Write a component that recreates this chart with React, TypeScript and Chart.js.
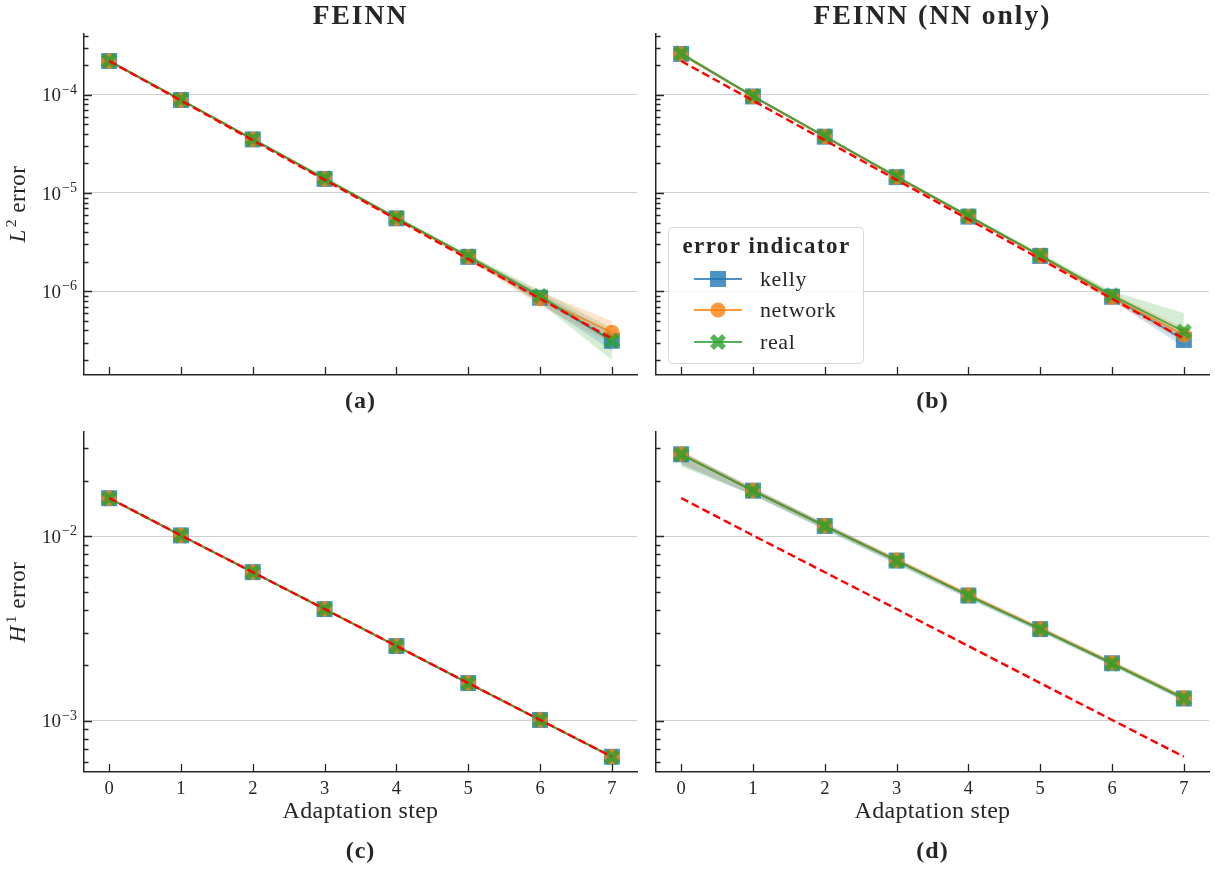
import React, { useEffect, useRef } from 'react';
import { Chart, registerables } from 'chart.js';

Chart.register(...registerables);

// ---------------- data ----------------
const steps = [0, 1, 2, 3, 4, 5, 6, 7];
const stepLabels = ['0', '1', '2', '3', '4', '5', '6', '7'];
const legendLabels = ['kelly', 'network', 'real'];
const legendTitle = 'error indicator';
const panelTitles = ['FEINN', 'FEINN (NN only)'];
const panelTags = ['(a)', '(b)', '(c)', '(d)'];
const xAxisTitle = 'Adaptation step';

const row1Decades = [1e-7, 1e-6, 1e-5, 1e-4, 1e-3];
const row2Decades = [1e-4, 1e-3, 1e-2, 1e-1];
const minorMultipliers = [2, 3, 4, 5, 6, 7, 8, 9];

// reference (dashed) lines
const refL2 = [2.2e-4, 8.7e-5, 3.44e-5, 1.36e-5, 5.4e-6, 2.13e-6, 8.4e-7, 3.3e-7];
const refH1 = [0.0161, 0.0101, 6.38e-3, 4.03e-3, 2.54e-3, 1.6e-3, 1.01e-3, 6.38e-4];

// (a) FEINN, L2 error
const aKelly = [2.2e-4, 8.83e-5, 3.51e-5, 1.39e-5, 5.52e-6, 2.24e-6, 8.6e-7, 3.14e-7];
const aNetwork = [2.2e-4, 8.83e-5, 3.51e-5, 1.39e-5, 5.52e-6, 2.24e-6, 8.4e-7, 3.83e-7];
const aReal = [2.21e-4, 8.9e-5, 3.54e-5, 1.41e-5, 5.6e-6, 2.27e-6, 9.0e-7, 3.14e-7];
const aKellyLo = [2.13e-4, 8.6e-5, 3.42e-5, 1.35e-5, 5.35e-6, 2.15e-6, 7.6e-7, 2.5e-7];
const aKellyHi = [2.27e-4, 9.05e-5, 3.6e-5, 1.43e-5, 5.7e-6, 2.33e-6, 9.5e-7, 3.8e-7];
const aNetworkLo = [2.13e-4, 8.6e-5, 3.42e-5, 1.35e-5, 5.35e-6, 2.1e-6, 7.2e-7, 2.9e-7];
const aNetworkHi = [2.27e-4, 9.05e-5, 3.6e-5, 1.43e-5, 5.7e-6, 2.36e-6, 9.9e-7, 5.0e-7];
const aRealLo = [2.14e-4, 8.65e-5, 3.45e-5, 1.36e-5, 5.4e-6, 2.17e-6, 7.6e-7, 2.0e-7];
const aRealHi = [2.28e-4, 9.15e-5, 3.64e-5, 1.46e-5, 5.8e-6, 2.38e-6, 1.02e-6, 4.2e-7];

// (b) FEINN (NN only), L2 error
const bKelly = [2.6e-4, 9.6e-5, 3.74e-5, 1.45e-5, 5.75e-6, 2.29e-6, 8.8e-7, 3.2e-7];
const bNetwork = [2.6e-4, 9.6e-5, 3.74e-5, 1.45e-5, 5.75e-6, 2.29e-6, 8.7e-7, 3.6e-7];
const bReal = [2.62e-4, 9.7e-5, 3.78e-5, 1.47e-5, 5.85e-6, 2.33e-6, 9.1e-7, 3.9e-7];
const bKellyLo = [2.5e-4, 9.35e-5, 3.65e-5, 1.41e-5, 5.6e-6, 2.22e-6, 8.1e-7, 2.7e-7];
const bKellyHi = [2.72e-4, 9.85e-5, 3.84e-5, 1.49e-5, 5.9e-6, 2.37e-6, 9.5e-7, 3.7e-7];
const bNetworkLo = [2.5e-4, 9.35e-5, 3.65e-5, 1.41e-5, 5.6e-6, 2.21e-6, 7.8e-7, 3.05e-7];
const bNetworkHi = [2.72e-4, 9.85e-5, 3.84e-5, 1.49e-5, 5.9e-6, 2.38e-6, 9.7e-7, 4.2e-7];
const bRealLo = [2.5e-4, 9.45e-5, 3.69e-5, 1.43e-5, 5.7e-6, 2.25e-6, 8.3e-7, 3.3e-7];
const bRealHi = [2.75e-4, 1.0e-4, 3.9e-5, 1.52e-5, 6.05e-6, 2.45e-6, 1.0e-6, 6.0e-7];

// (c) FEINN, H1 error
const cKelly = [0.01607, 0.0101, 6.39e-3, 4.03e-3, 2.54e-3, 1.6e-3, 1.01e-3, 6.38e-4];
const cNetwork = [0.01608, 0.01011, 6.4e-3, 4.04e-3, 2.545e-3, 1.602e-3, 1.012e-3, 6.39e-4];
const cReal = [0.01605, 0.01009, 6.38e-3, 4.02e-3, 2.535e-3, 1.598e-3, 1.009e-3, 6.37e-4];
const cKellyLo = [0.0159, 0.01, 6.33e-3, 3.99e-3, 2.515e-3, 1.585e-3, 1.0e-3, 6.32e-4];
const cKellyHi = [0.01623, 0.0102, 6.45e-3, 4.07e-3, 2.565e-3, 1.615e-3, 1.02e-3, 6.44e-4];
const cNetworkLo = [0.01592, 0.01001, 6.34e-3, 4.0e-3, 2.52e-3, 1.587e-3, 1.002e-3, 6.33e-4];
const cNetworkHi = [0.01625, 0.01021, 6.46e-3, 4.08e-3, 2.57e-3, 1.617e-3, 1.022e-3, 6.45e-4];
const cRealLo = [0.01588, 0.00999, 6.32e-3, 3.98e-3, 2.51e-3, 1.583e-3, 0.999e-3, 6.31e-4];
const cRealHi = [0.01622, 0.01019, 6.44e-3, 4.06e-3, 2.56e-3, 1.613e-3, 1.019e-3, 6.43e-4];

// (d) FEINN (NN only), H1 error
const dKelly = [0.0278, 0.01766, 0.01137, 7.38e-3, 4.77e-3, 3.14e-3, 2.05e-3, 1.32e-3];
const dNetwork = [0.0279, 0.0177, 0.0114, 7.42e-3, 4.81e-3, 3.16e-3, 2.06e-3, 1.33e-3];
const dReal = [0.0277, 0.0176, 0.01135, 7.36e-3, 4.76e-3, 3.13e-3, 2.04e-3, 1.32e-3];
const dKellyLo = [0.0245, 0.0166, 0.0108, 7.05e-3, 4.58e-3, 3.03e-3, 1.98e-3, 1.28e-3];
const dKellyHi = [0.0288, 0.0183, 0.0118, 7.62e-3, 4.9e-3, 3.23e-3, 2.11e-3, 1.36e-3];
const dNetworkLo = [0.0247, 0.0168, 0.011, 7.15e-3, 4.65e-3, 3.06e-3, 2.0e-3, 1.29e-3];
const dNetworkHi = [0.029, 0.0184, 0.0118, 7.65e-3, 4.95e-3, 3.25e-3, 2.12e-3, 1.37e-3];
const dRealLo = [0.0238, 0.0167, 0.0109, 7.1e-3, 4.6e-3, 3.04e-3, 1.99e-3, 1.28e-3];
const dRealHi = [0.0289, 0.0182, 0.0117, 7.58e-3, 4.88e-3, 3.21e-3, 2.1e-3, 1.36e-3];

// ---------------- style ----------------
const SERIF = '"Liberation Serif", "Times New Roman", serif';
const INK = '#262626';
const GRID = '#cfcfcf';
const BLUE = 'rgba(31,119,180,0.8)';
const ORANGE = 'rgba(255,127,14,0.8)';
const GREEN = 'rgba(44,160,44,0.8)';
const BLUE_BAND = 'rgba(31,119,180,0.2)';
const ORANGE_BAND = 'rgba(255,127,14,0.2)';
const GREEN_BAND = 'rgba(44,160,44,0.2)';

let xMarkerCache: HTMLCanvasElement | null = null;
function xMarker(): HTMLCanvasElement {
  if (xMarkerCache) return xMarkerCache;
  const S = 18;
  const a = document.createElement('canvas');
  a.width = S; a.height = S;
  const g = a.getContext('2d')!;
  g.strokeStyle = 'rgb(44,160,44)';
  g.lineWidth = 5.6;
  g.lineCap = 'butt';
  g.beginPath();
  g.moveTo(3, 3); g.lineTo(S - 3, S - 3);
  g.moveTo(S - 3, 3); g.lineTo(3, S - 3);
  g.stroke();
  const b = document.createElement('canvas');
  b.width = S; b.height = S;
  const h = b.getContext('2d')!;
  h.globalAlpha = 0.8;
  h.drawImage(a, 0, 0);
  xMarkerCache = b;
  return b;
}

type Band = { mean: number[]; lo: number[]; hi: number[] };
type PanelSpec = {
  left: number; top: number; width: number; height: number;
  area: { l: number; t: number; r: number; b: number };
  yMin: number; yMax: number; decades: number[];
  kelly: Band; network: Band; real: Band; ref: number[];
  yLabels: boolean; xLabels: boolean; legend: boolean;
};

const panels: PanelSpec[] = [
  {
    left: 0, top: 0, width: 640, height: 420, area: { l: 84, t: 34, r: 637, b: 375 },
    yMin: 1.408e-7, yMax: 4.145e-4, decades: row1Decades,
    kelly: { mean: aKelly, lo: aKellyLo, hi: aKellyHi },
    network: { mean: aNetwork, lo: aNetworkLo, hi: aNetworkHi },
    real: { mean: aReal, lo: aRealLo, hi: aRealHi },
    ref: refL2, yLabels: true, xLabels: false, legend: false,
  },
  {
    left: 620, top: 0, width: 595, height: 420, area: { l: 656, t: 34, r: 1209, b: 375 },
    yMin: 1.408e-7, yMax: 4.145e-4, decades: row1Decades,
    kelly: { mean: bKelly, lo: bKellyLo, hi: bKellyHi },
    network: { mean: bNetwork, lo: bNetworkLo, hi: bNetworkHi },
    real: { mean: bReal, lo: bRealLo, hi: bRealHi },
    ref: refL2, yLabels: false, xLabels: false, legend: true,
  },
  {
    left: 0, top: 420, width: 640, height: 452, area: { l: 84, t: 432, r: 637, b: 772 },
    yMin: 5.275e-4, yMax: 0.03671, decades: row2Decades,
    kelly: { mean: cKelly, lo: cKellyLo, hi: cKellyHi },
    network: { mean: cNetwork, lo: cNetworkLo, hi: cNetworkHi },
    real: { mean: cReal, lo: cRealLo, hi: cRealHi },
    ref: refH1, yLabels: true, xLabels: true, legend: false,
  },
  {
    left: 620, top: 420, width: 595, height: 452, area: { l: 656, t: 432, r: 1209, b: 772 },
    yMin: 5.275e-4, yMax: 0.03671, decades: row2Decades,
    kelly: { mean: dKelly, lo: dKellyLo, hi: dKellyHi },
    network: { mean: dNetwork, lo: dNetworkLo, hi: dNetworkHi },
    real: { mean: dReal, lo: dRealLo, hi: dRealHi },
    ref: refH1, yLabels: false, xLabels: true, legend: false,
  },
];

function yTickList(p: PanelSpec) {
  const out: { value: number; major: boolean }[] = [];
  p.decades.forEach((d) => {
    if (d >= p.yMin && d <= p.yMax) out.push({ value: d, major: true });
    minorMultipliers.forEach((m) => {
      const v = d * m;
      if (v >= p.yMin && v <= p.yMax) out.push({ value: v, major: false });
    });
  });
  return out.sort((a, b) => a.value - b.value);
}

function setSpacing(ctx: CanvasRenderingContext2D, v: string) {
  try { (ctx as any).letterSpacing = v; } catch (e) { /* ignore */ }
}

function drawLegend(ctx: CanvasRenderingContext2D, ox: number, oy: number) {
  const bx = 668 - ox, by = 227 - oy, bw = 195, bh = 136;
  ctx.save();
  ctx.beginPath();
  (ctx as any).roundRect(bx + 0.5, by + 0.5, bw, bh, 4);
  ctx.fillStyle = 'rgba(255,255,255,0.8)';
  ctx.fill();
  ctx.strokeStyle = '#d8d8d8';
  ctx.lineWidth = 1;
  ctx.stroke();
  ctx.fillStyle = INK;
  ctx.font = `bold 23px ${SERIF}`;
  ctx.textAlign = 'center';
  ctx.textBaseline = 'alphabetic';
  setSpacing(ctx, '1.4px');
  ctx.fillText(legendTitle, bx + bw / 2 + 1, 253 - oy);
  setSpacing(ctx, '0.6px');
  const colors = [BLUE, ORANGE, GREEN];
  const ys = [279, 310, 342];
  ctx.font = `22px ${SERIF}`;
  ctx.textAlign = 'left';
  ys.forEach((yy, i) => {
    const y = yy - oy;
    const x1 = 694 - ox, x2 = 742 - ox, xm = 718 - ox;
    ctx.strokeStyle = colors[i];
    ctx.lineWidth = 1.8;
    ctx.beginPath(); ctx.moveTo(x1, y); ctx.lineTo(x2, y); ctx.stroke();
    ctx.fillStyle = colors[i];
    if (i === 0) {
      ctx.fillRect(xm - 8, y - 8, 16, 16);
    } else if (i === 1) {
      ctx.beginPath(); ctx.arc(xm, y, 7.6, 0, Math.PI * 2); ctx.fill();
    } else {
      const img = xMarker();
      ctx.drawImage(img, xm - img.width / 2, y - img.height / 2);
    }
    ctx.fillStyle = INK;
    ctx.fillText(legendLabels[i], 760 - ox, y + 6.5);
  });
  setSpacing(ctx, '0px');
  ctx.restore();
}

function makeConfig(p: PanelSpec): any {
  const pts = (arr: number[]) => arr.map((y, i) => ({ x: steps[i], y }));
  const yTicks = yTickList(p);
  const line = (label: string, arr: number[], color: string, style: any, radius: number, order: number) => ({
    label, data: pts(arr), borderColor: color, backgroundColor: color, borderWidth: 1.8,
    pointStyle: style, pointRadius: radius, pointBackgroundColor: color, pointBorderWidth: 0,
    pointHoverRadius: radius, fill: false, order, tension: 0, clip: 12,
  });
  const band = (arr: number[], fill: any, color: string) => ({
    label: '', data: pts(arr), borderWidth: 0, borderColor: 'rgba(0,0,0,0)', pointRadius: 0,
    fill, backgroundColor: color, order: 10, tension: 0,
  });
  const datasets = [
    { label: 'ref', data: pts(p.ref), borderColor: '#ff0000', borderWidth: 2.4, borderDash: [8, 4],
      pointRadius: 0, fill: false, order: 0, tension: 0 },
    line(legendLabels[2], p.real.mean, GREEN, xMarker(), 7, 1),
    line(legendLabels[1], p.network.mean, ORANGE, 'circle', 7.6, 2),
    line(legendLabels[0], p.kelly.mean, BLUE, 'rect', 11.3, 3),
    band(p.kelly.lo, false, BLUE_BAND),
    band(p.kelly.hi, '-1', BLUE_BAND),
    band(p.network.lo, false, ORANGE_BAND),
    band(p.network.hi, '-1', ORANGE_BAND),
    band(p.real.lo, false, GREEN_BAND),
    band(p.real.hi, '-1', GREEN_BAND),
  ];

  const decor = {
    id: 'decor',
    afterDraw(chart: any) {
      const ctx: CanvasRenderingContext2D = chart.ctx;
      const { left, bottom } = chart.chartArea;
      const xs = chart.scales.x;
      const ys = chart.scales.y;
      ctx.save();
      ctx.strokeStyle = INK;
      ctx.lineWidth = 1.3;
      ctx.beginPath();
      yTicks.forEach((t) => {
        const py = Math.round(ys.getPixelForValue(t.value)) + 0.5;
        const len = t.major ? 8 : 4.5;
        ctx.moveTo(left, py); ctx.lineTo(left + len, py);
      });
      steps.forEach((v) => {
        const px = Math.round(xs.getPixelForValue(v)) + 0.5;
        ctx.moveTo(px, bottom); ctx.lineTo(px, bottom - 8);
      });
      ctx.stroke();
      ctx.fillStyle = INK;
      ctx.textBaseline = 'alphabetic';
      if (p.yLabels) {
        yTicks.filter((t) => t.major).forEach((t) => {
          const py = ys.getPixelForValue(t.value);
          const e = Math.round(Math.log10(t.value));
          const ex = (e < 0 ? '\u2212' : '') + Math.abs(e);
          ctx.font = `14px ${SERIF}`;
          const ew = ctx.measureText(ex).width;
          ctx.font = `19px ${SERIF}`;
          const bw = ctx.measureText('10').width;
          const rx = left - 7;
          ctx.textAlign = 'left';
          ctx.fillText('10', rx - ew - bw - 1, py + 6.5);
          ctx.font = `14px ${SERIF}`;
          ctx.fillText(ex, rx - ew, py - 1);
        });
      }
      if (p.xLabels) {
        ctx.font = `18.5px ${SERIF}`;
        ctx.textAlign = 'center';
        steps.forEach((v, i) => {
          ctx.fillText(stepLabels[i], xs.getPixelForValue(v), bottom + 22);
        });
      }
      ctx.restore();
      if (p.legend) drawLegend(ctx, p.left, p.top);
    },
  };

  return {
    type: 'line',
    data: { datasets },
    options: {
      responsive: false,
      animation: false,
      devicePixelRatio: 1,
      events: [],
      layout: {
        autoPadding: false,
        padding: { left: 0, top: p.area.t - p.top, right: p.left + p.width - p.area.r, bottom: 0 },
      },
      plugins: { legend: { display: false }, tooltip: { enabled: false }, title: { display: false } },
      scales: {
        x: {
          type: 'linear', min: -0.35, max: 7.35, bounds: 'data',
          grid: { color: 'rgba(0,0,0,0)', drawTicks: false },
          border: { display: true, color: INK, width: 1.5 },
          ticks: { display: false },
          afterBuildTicks: (s: any) => { s.ticks = steps.map((v) => ({ value: v })); },
          afterFit: (s: any) => { s.height = p.top + p.height - p.area.b; },
        },
        y: {
          type: 'logarithmic', min: p.yMin, max: p.yMax, bounds: 'data',
          grid: {
            color: (c: any) => (c.tick && c.tick.major ? GRID : 'rgba(0,0,0,0)'),
            lineWidth: 1.1, drawTicks: false,
          },
          border: { display: true, color: INK, width: 1.5 },
          ticks: { display: false },
          afterBuildTicks: (s: any) => { s.ticks = yTicks.map((t) => ({ value: t.value, major: t.major })); },
          afterFit: (s: any) => { s.width = p.area.l - p.left; },
        },
      },
    },
    plugins: [decor],
  };
}

function Panel({ p }: { p: PanelSpec }) {
  const ref = useRef<HTMLCanvasElement>(null);
  useEffect(() => {
    const chart = new Chart(ref.current as HTMLCanvasElement, makeConfig(p));
    return () => chart.destroy();
  }, [p]);
  return (
    <canvas
      ref={ref}
      width={p.width}
      height={p.height}
      style={{ position: 'absolute', left: p.left, top: p.top, width: p.width, height: p.height }}
    />
  );
}

function Label({ x, baseline, size, bold, spacing, children }: { x: number; baseline: number; size: number; bold?: boolean; spacing?: number; children: any }) {
  return (
    <div
      style={{
        position: 'absolute', left: x, top: baseline - size * 0.8375, transform: 'translateX(-50%)',
        fontFamily: SERIF, fontSize: size, fontWeight: bold ? 700 : 400, lineHeight: 1,
        color: INK, whiteSpace: 'nowrap', letterSpacing: spacing || 0,
      }}
    >
      {children}
    </div>
  );
}

function YTitle({ cx, cy, letter, sup }: { cx: number; cy: number; letter: string; sup: string }) {
  return (
    <div
      style={{
        position: 'absolute', left: cx, top: cy, transform: 'translate(-50%, -50%) rotate(-90deg)',
        fontFamily: SERIF, fontSize: 23, lineHeight: 1, color: INK, whiteSpace: 'nowrap', letterSpacing: 0.5,
      }}
    >
      <i>{letter}</i>
      <span style={{ fontSize: '0.68em', position: 'relative', top: '-0.6em', marginLeft: 2 }}>{sup}</span>
      {' error'}
    </div>
  );
}

export default function App() {
  const c1 = 360.5;
  const c2 = 932.5;
  return (
    <div style={{ position: 'absolute', left: 0, top: 0, width: 1215, height: 872, background: '#ffffff', overflow: 'hidden' }}>
      {panels.map((p, i) => <Panel key={i} p={p} />)}
      <Label x={c1} baseline={24} size={27.5} bold spacing={2}>{panelTitles[0]}</Label>
      <Label x={c2} baseline={24} size={27.5} bold spacing={2}>{panelTitles[1]}</Label>
      <Label x={c1} baseline={408} size={24} bold spacing={1}>{panelTags[0]}</Label>
      <Label x={c2} baseline={408} size={24} bold spacing={1}>{panelTags[1]}</Label>
      <Label x={c1} baseline={858} size={24} bold spacing={1}>{panelTags[2]}</Label>
      <Label x={c2} baseline={858} size={24} bold spacing={1}>{panelTags[3]}</Label>
      <Label x={c1} baseline={818} size={24} spacing={0.3}>{xAxisTitle}</Label>
      <Label x={c2} baseline={818} size={24} spacing={0.3}>{xAxisTitle}</Label>
      <YTitle cx={17} cy={204} letter="L" sup="2" />
      <YTitle cx={17} cy={602} letter="H" sup="1" />
    </div>
  );
}
